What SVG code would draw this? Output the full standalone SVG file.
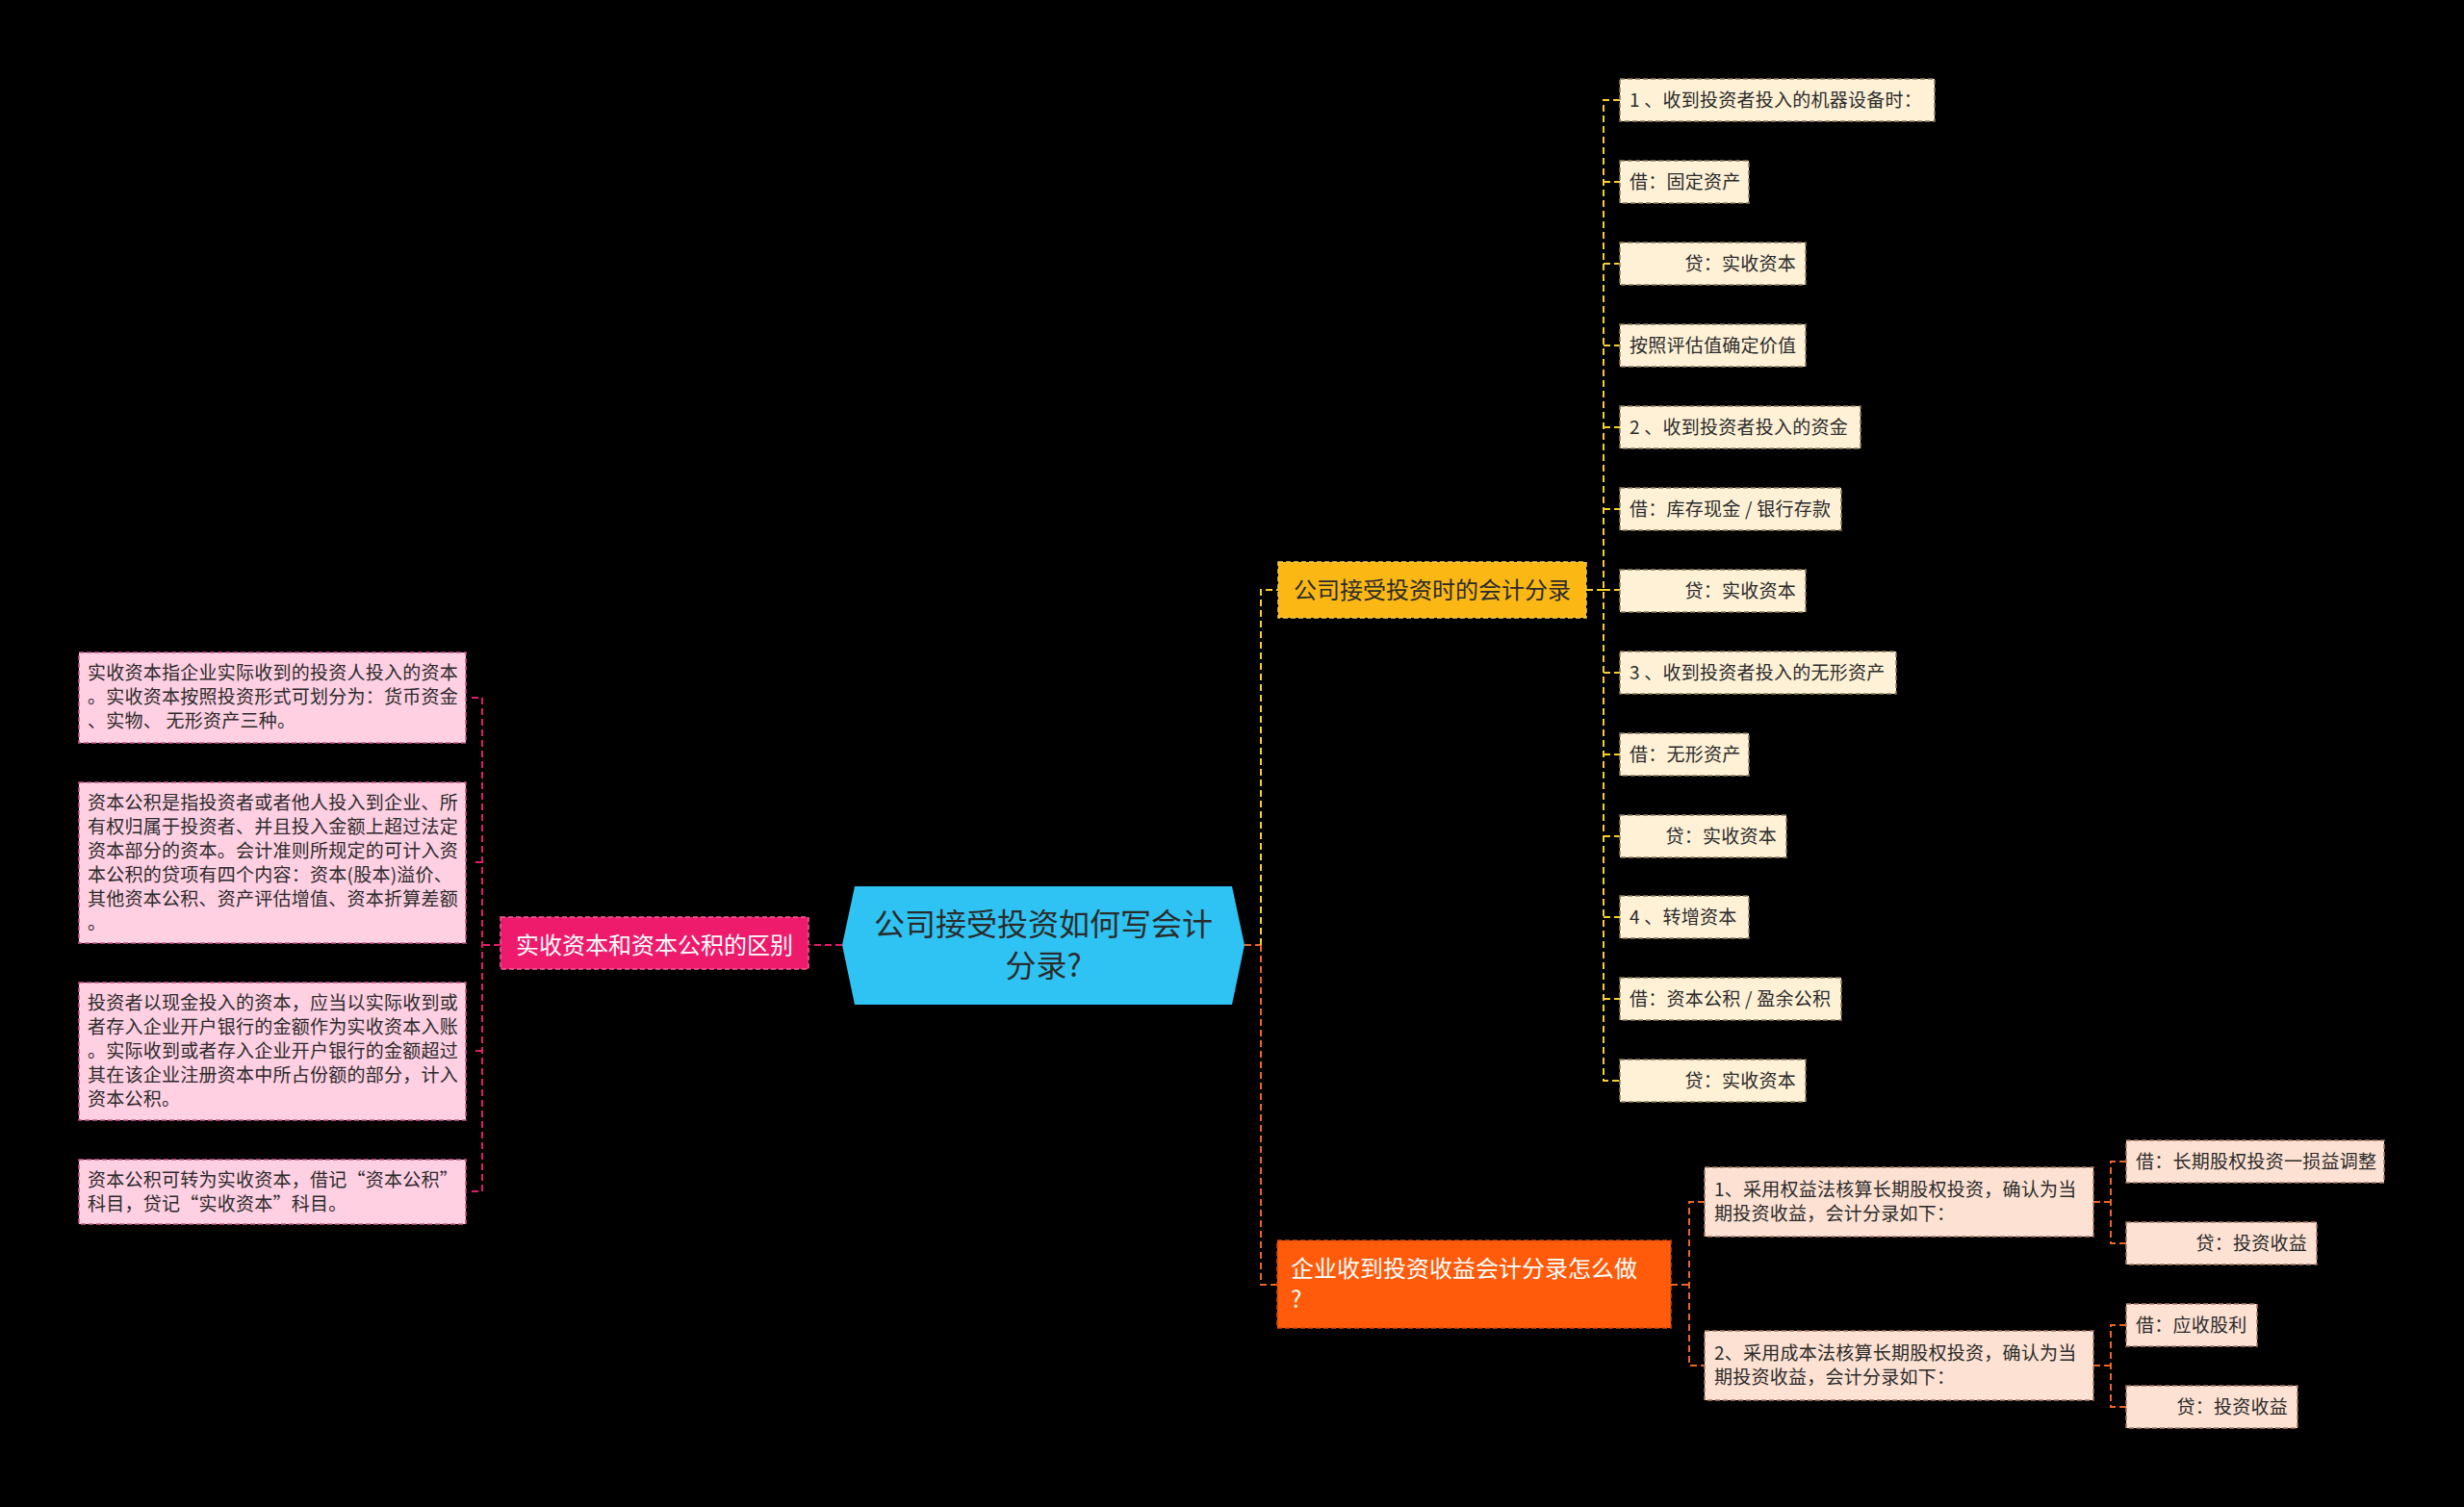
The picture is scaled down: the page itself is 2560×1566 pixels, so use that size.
<svg xmlns="http://www.w3.org/2000/svg" width="2560" height="1566" viewBox="0 0 2560 1566">
<style>
text{font-family:"Noto Sans CJK SC","Noto Sans",sans-serif;fill:#2b2b2b}
.s19{font-size:19px;letter-spacing:0.25px}
.c{stroke-width:2;fill:none;stroke-dasharray:7 4}
.cp{stroke:#e31c6a}
.cy{stroke:#f7cf2e}
.co{stroke:#ec6428}
.lb{fill:#ffcfe2;stroke:#c9578a;stroke-width:1.5;stroke-dasharray:5 3}
.yb{fill:#fef1d6;stroke:#8c7c60;stroke-width:1.5;stroke-dasharray:5 3}
.ob{fill:#fde1d2;stroke:#a87866;stroke-width:1.5;stroke-dasharray:5 3}
.end{text-anchor:end}
</style>
<rect x="0" y="0" width="2560" height="1566" fill="#000"/>
<g id="connectors">
<path class="c cp" d="M875,982 H841 M520,982 H501 M490,725 H501 V1238 H490 M501,896 H490 M501,1092 H490"/>
<path class="c co" d="M1293,982 H1310"/>
<path class="c cy" d="M1310,982 V613 H1328"/>
<path class="c cy" d="M1648,613 H1666 M1683,104 H1666 V1123 H1683 M1666,189 H1683 M1666,274 H1683 M1666,359 H1683 M1666,444 H1683 M1666,529 H1683 M1666,613 H1683 M1666,699 H1683 M1666,784 H1683 M1666,869 H1683 M1666,953 H1683 M1666,1038 H1683"/>
<path class="c co" d="M1310,982 V1335 H1327 M1736,1335 H1755 M1771,1249 H1755 V1419 H1771 M2175,1249 H2193 M2209,1207 H2193 V1292 H2209 M2175,1419 H2193 M2209,1377 H2193 V1462 H2209"/>
</g>
<g id="root">
<polygon points="875,982 888,921 1280,921 1293,982 1280,1044 888,1044" fill="#2ec3f3"/>
<text x="1084" y="972" font-size="32" text-anchor="middle">公司接受投资如何写会计</text>
<text x="1084" y="1015" font-size="32" text-anchor="middle">分录?</text>
</g>
<g id="n-diff">
<rect x="520" y="953" width="320" height="54" fill="#ee1a6b" stroke="#f8609a" stroke-width="1.5" stroke-dasharray="5 3"/>
<text x="680" y="991" font-size="24" text-anchor="middle" style="fill:#fff">实收资本和资本公积的区别</text>
</g>
<g id="n-l1">
<rect class="lb" x="82" y="678" width="402" height="94"/>
<text class="s19" x="91" y="706">实收资本指企业实际收到的投资人投入的资本</text>
<text class="s19" x="91" y="731">。实收资本按照投资形式可划分为：货币资金</text>
<text class="s19" x="91" y="756">、实物、 无形资产三种。</text>
</g>
<g id="n-l2">
<rect class="lb" x="82" y="813" width="402" height="167"/>
<text class="s19" x="91" y="841">资本公积是指投资者或者他人投入到企业、所</text>
<text class="s19" x="91" y="866">有权归属于投资者、并且投入金额上超过法定</text>
<text class="s19" x="91" y="891">资本部分的资本。会计准则所规定的可计入资</text>
<text class="s19" x="91" y="916">本公积的贷项有四个内容：资本(股本)溢价、</text>
<text class="s19" x="91" y="941">其他资本公积、资产评估增值、资本折算差额</text>
<text class="s19" x="91" y="966">。</text>
</g>
<g id="n-l3">
<rect class="lb" x="82" y="1021" width="402" height="143"/>
<text class="s19" x="91" y="1049">投资者以现金投入的资本，应当以实际收到或</text>
<text class="s19" x="91" y="1074">者存入企业开户银行的金额作为实收资本入账</text>
<text class="s19" x="91" y="1099">。实际收到或者存入企业开户银行的金额超过</text>
<text class="s19" x="91" y="1124">其在该企业注册资本中所占份额的部分，计入</text>
<text class="s19" x="91" y="1149">资本公积。</text>
</g>
<g id="n-l4">
<rect class="lb" x="82" y="1205" width="402" height="67"/>
<text class="s19" x="91" y="1233">资本公积可转为实收资本，借记“资本公积”</text>
<text class="s19" x="91" y="1258">科目，贷记“实收资本”科目。</text>
</g>
<g id="n-entry">
<rect x="1328" y="584" width="320" height="58" fill="#fbb714" stroke="#f5cf4a" stroke-width="1.5" stroke-dasharray="5 3"/>
<text x="1488" y="622" font-size="24" text-anchor="middle">公司接受投资时的会计分录</text>
</g>
<g id="n-y1"><rect class="yb" x="1683" y="82" width="327" height="44"/><text class="s19" x="1693" y="111">1 、收到投资者投入的机器设备时：</text></g>
<g id="n-y2"><rect class="yb" x="1683" y="167" width="134" height="44"/><text class="s19" x="1693" y="196">借：固定资产</text></g>
<g id="n-y3"><rect class="yb" x="1683" y="252" width="193" height="44"/><text class="s19 end" x="1866" y="281">贷：实收资本</text></g>
<g id="n-y4"><rect class="yb" x="1683" y="337" width="193" height="44"/><text class="s19" x="1693" y="366">按照评估值确定价值</text></g>
<g id="n-y5"><rect class="yb" x="1683" y="422" width="250" height="44"/><text class="s19" x="1693" y="451">2 、收到投资者投入的资金</text></g>
<g id="n-y6"><rect class="yb" x="1683" y="507" width="230" height="44"/><text class="s19" x="1693" y="536">借：库存现金 / 银行存款</text></g>
<g id="n-y7"><rect class="yb" x="1683" y="592" width="193" height="44"/><text class="s19 end" x="1866" y="621">贷：实收资本</text></g>
<g id="n-y8"><rect class="yb" x="1683" y="677" width="287" height="44"/><text class="s19" x="1693" y="706">3 、收到投资者投入的无形资产</text></g>
<g id="n-y9"><rect class="yb" x="1683" y="762" width="134" height="44"/><text class="s19" x="1693" y="791">借：无形资产</text></g>
<g id="n-y10"><rect class="yb" x="1683" y="847" width="173" height="44"/><text class="s19 end" x="1846" y="876">贷：实收资本</text></g>
<g id="n-y11"><rect class="yb" x="1683" y="931" width="134" height="44"/><text class="s19" x="1693" y="960">4 、转增资本</text></g>
<g id="n-y12"><rect class="yb" x="1683" y="1016" width="230" height="44"/><text class="s19" x="1693" y="1045">借：资本公积 / 盈余公积</text></g>
<g id="n-y13"><rect class="yb" x="1683" y="1101" width="193" height="44"/><text class="s19 end" x="1866" y="1130">贷：实收资本</text></g>
<g id="n-income">
<rect x="1327" y="1289" width="409" height="91" fill="#ff5b0a" stroke="#d8480a" stroke-width="1.5" stroke-dasharray="5 3"/>
<text x="1341" y="1327" font-size="24" style="fill:#fff">企业收到投资收益会计分录怎么做</text>
<text x="1341" y="1359" font-size="24" style="fill:#fff">?</text>
</g>
<g id="n-oA">
<rect class="ob" x="1771" y="1213" width="404" height="72"/>
<text class="s19" x="1781" y="1243">1、采用权益法核算长期股权投资，确认为当</text>
<text class="s19" x="1781" y="1268">期投资收益，会计分录如下：</text>
</g>
<g id="n-oB">
<rect class="ob" x="1771" y="1383" width="404" height="72"/>
<text class="s19" x="1781" y="1413">2、采用成本法核算长期股权投资，确认为当</text>
<text class="s19" x="1781" y="1438">期投资收益，会计分录如下：</text>
</g>
<g id="n-oC"><rect class="ob" x="2209" y="1185" width="268" height="44"/><text class="s19" x="2219" y="1214">借：长期股权投资一损益调整</text></g>
<g id="n-oD"><rect class="ob" x="2209" y="1270" width="198" height="44"/><text class="s19 end" x="2397" y="1299">贷：投资收益</text></g>
<g id="n-oE"><rect class="ob" x="2209" y="1355" width="136" height="44"/><text class="s19" x="2219" y="1384">借：应收股利</text></g>
<g id="n-oF"><rect class="ob" x="2209" y="1440" width="178" height="44"/><text class="s19 end" x="2377" y="1469">贷：投资收益</text></g>
</svg>
